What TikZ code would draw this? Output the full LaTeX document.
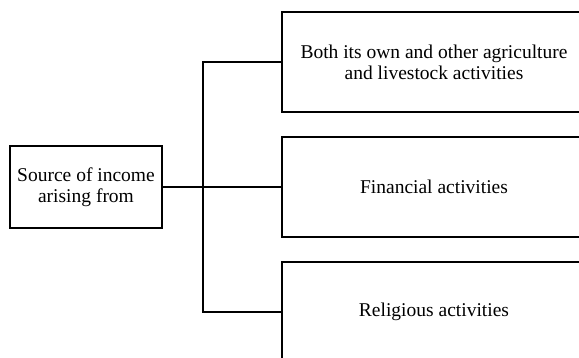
\documentclass[tikz,border=0pt]{standalone}
\usepackage{fontspec}
\setmainfont{Liberation Serif}
\usetikzlibrary{positioning}

\begin{document}
\begin{tikzpicture}[x=1pt, y=1pt, semithick, line width=1.1pt,
font=\fontsize{19.5}{21}\selectfont,
box/.style={rectangle, draw, align=center, inner sep=0pt},
item/.style={box, minimum width=304pt, minimum height=100pt}]
  \useasboundingbox (0,0) rectangle (579,357);
  \clip (0,0) rectangle (579,357);
  % source box on the left
  \node[box, minimum width=152pt, minimum height=82pt] (S) at (86,170)
    {Source of income\\arising from};
  % 3 boxes on the right
  \node[item] (A1) at (434,295) {Both its own and other agriculture\\and livestock activities};
  \node[item] (A2) at (434,170) {Financial activities};
  \node[item] (A3) at (434,45)  {Religious activities};

  \coordinate (J) at (203,170);
  \draw (S) -- (J);
\foreach \to in {A1,A2,A3}
    \draw (J) |- (\to.west);
\end{tikzpicture}
\end{document}
